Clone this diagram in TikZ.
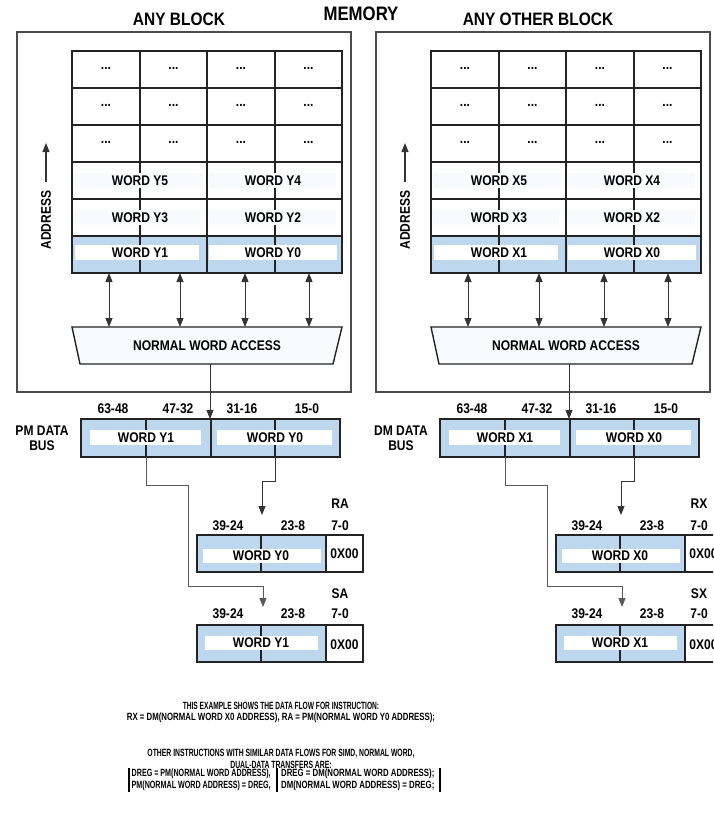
\documentclass[tikz,border=0pt]{standalone}
\usepackage{fontspec}
\setmainfont{Liberation Sans}[FakeStretch=0.86]
\newfontfamily\noteA{Liberation Sans}[FakeStretch=0.63]
\newfontfamily\noteB{Liberation Sans}[FakeStretch=0.745]
\newfontfamily\noteC{Liberation Sans}[FakeStretch=0.65]
\newfontfamily\noteD{Liberation Sans}[FakeStretch=0.68]
\usetikzlibrary{arrows.meta}
\definecolor{lblue}{RGB}{189,215,238}
\definecolor{faint}{RGB}{248,250,253}
\definecolor{gridc}{RGB}{35,35,35}
\tikzset{
  lbl/.style={font=\fontsize{14}{16}\selectfont\bfseries, inner sep=0pt},
  ttl/.style={font=\fontsize{18}{20}\selectfont\bfseries, inner sep=0pt},
  note/.style={inner sep=0pt, align=center},
  gridline/.style={line width=1.8pt, draw=gridc},
  framebox/.style={line width=1.1pt, draw=black!70},
  conn/.style={line width=0.9pt, draw=black!80},
  tip/.style={-{Triangle[length=9pt,width=7pt]}},
  dtip/.style={{Triangle[length=9pt,width=7pt]}-{Triangle[length=9pt,width=7pt]}},
}
\newcommand{\NoteSize}{\fontsize{10.5}{12}\selectfont\bfseries}
\newcommand{\MemHalf}[6]{%
  % outer frame and title
  \draw[framebox] (17,32) rectangle (351,392);
  \node[ttl] (#1title) at (179,19.5) {#3};
  % memory grid
  \fill[lblue] (72,236) rectangle (342,273);
  \foreach \yy in {88,125,162,199,236} \draw[gridline] (72,\yy) -- (342,\yy);
  \foreach \xx in {140,207,275} \draw[gridline] (\xx,51) -- (\xx,273);
  \draw[gridline] (72,51) rectangle (342,273);
  \fill[faint] (74,173) rectangle (203,188);
  \fill[faint] (209,173) rectangle (336,188);
  \fill[faint] (74,210) rectangle (200,225);
  \fill[faint] (209,210) rectangle (336,225);
  \fill[white] (75,245) rectangle (199,260);
  \fill[white] (209,245) rectangle (337,260);
  \foreach \r/\yy in {1/68,2/105,3/142}
    \foreach \c/\xx in {1/106,2/173.5,3/241,4/308.5}
      \node[lbl] (#1dots\r\c) at (\xx,\yy) {...};
  \node[lbl] (#1w5) at (140,180.5) {WORD #25};
  \node[lbl] (#1w4) at (273,180.5) {WORD #24};
  \node[lbl] (#1w3) at (140,217.5) {WORD #23};
  \node[lbl] (#1w2) at (273,217.5) {WORD #22};
  \node[lbl] (#1w1) at (140,253) {WORD #21};
  \node[lbl] (#1w0) at (273,253) {WORD #20};
  % address label
  \node[lbl, rotate=90] (#1addr) at (46,220) {ADDRESS};
  \coordinate (#1addrA) at (46,182);
  \coordinate (#1addrB) at (46,143);
  \draw[conn, line width=1.2pt, tip] (#1addrA) -- (#1addrB);
  % access trapezoid
  \draw[line width=1.4pt, draw=gridc, fill=faint] (72,327) -- (342,327) -- (333,364) -- (80,364) -- cycle;
  \node[lbl] (#1access) at (207,346) {NORMAL WORD ACCESS};
  \foreach \i/\xx in {1/109,2/180,3/245,4/309}{
    \coordinate (#1g\i) at (\xx,273);
    \coordinate (#1t\i) at (\xx,327);
    \draw[conn, dtip] (#1g\i) -- (#1t\i);
  }
  % data bus
  \coordinate (#1accOut) at (210,364);
  \coordinate (#1busIn) at (210,419);
  \fill[lblue] (81,419) rectangle (340,457);
  \draw[gridline, line width=1.4pt] (146,419) -- (146,457);
  \draw[gridline, line width=1.4pt] (275,419) -- (275,457);
  \draw[gridline, line width=1.4pt] (211,419) -- (211,457);
  \fill[white] (90,430) rectangle (201,445);
  \fill[white] (217,430) rectangle (332,445);
  \draw[gridline, line width=1.4pt] (81,419) rectangle (340,457);
  \node[lbl] (#1bw1) at (146,438) {WORD #21};
  \node[lbl] (#1bw0) at (275,438) {WORD #20};
  \node[lbl] (#1b63) at (113,409) {63-48};
  \node[lbl] (#1b47) at (178,409) {47-32};
  \node[lbl] (#1b31) at (242,409) {31-16};
  \node[lbl] (#1b15) at (307,409) {15-0};
  \node[lbl, align=center, font=\fontsize{14}{15}\selectfont\bfseries] (#1busname) at (42,438.5) {#4\\BUS};
  \draw[conn, tip] (#1accOut) -- (#1busIn);
  % register 1
  \fill[lblue] (197,535) rectangle (326,572);
  \draw[gridline, line width=1.4pt] (261,535) -- (261,572);
  \draw[gridline, line width=1.4pt] (326,535) -- (326,572);
  \fill[white] (203,549) rectangle (321,563);
  \draw[gridline, line width=1.4pt] (197,535) rectangle (363,572);
  \node[lbl] (#1r1w) at (261,556) {WORD #20};
  \node[lbl] (#1r1z) at (344.5,554) {0X00};
  \node[lbl] (#1r1n) at (340,504) {#5};
  \node[lbl] (#1r1a) at (228,526) {39-24};
  \node[lbl] (#1r1b) at (293,526) {23-8};
  \node[lbl] (#1r1c) at (340,526) {7-0};
  % register 2
  \fill[lblue] (197,625) rectangle (326,662);
  \draw[gridline, line width=1.4pt] (261,625) -- (261,662);
  \draw[gridline, line width=1.4pt] (326,625) -- (326,662);
  \fill[white] (205,636) rectangle (318,650);
  \draw[gridline, line width=1.4pt] (197,625) rectangle (363,662);
  \node[lbl] (#1r2w) at (261,643) {WORD #21};
  \node[lbl] (#1r2z) at (344.5,645) {0X00};
  \node[lbl] (#1r2n) at (340,594) {#6};
  \node[lbl] (#1r2a) at (228,614) {39-24};
  \node[lbl] (#1r2b) at (293,614) {23-8};
  \node[lbl] (#1r2c) at (340,614) {7-0};
  % bus to registers
  \coordinate (#1w0out) at (275,457);
  \coordinate (#1r1in) at (262,515);
  \draw[conn, tip] (#1w0out) -- (275,481) -- (262,481) -- (#1r1in);
  \coordinate (#1w1out) at (146,457);
  \coordinate (#1r2in) at (263,607);
  \draw[conn, draw=black!65, tip] (#1w1out) -- (146,485) -- (188,485) -- (188,586) -- (263,586) -- (#1r2in);
}
\begin{document}
\begin{tikzpicture}[x=1pt,y=-1pt]
  \clip (0,0) rectangle (713,814);
  \fill[white] (0,0) rectangle (713,814);
  \node[ttl, font=\fontsize{19.5}{21}\selectfont\bfseries] (memory) at (361,14) {MEMORY};
  \begin{scope}
    \MemHalf{L}{Y}{ANY BLOCK}{PM DATA}{RA}{SA}
  \end{scope}
  \begin{scope}[xshift=359pt]
    \MemHalf{R}{X}{ANY OTHER BLOCK}{DM DATA}{RX}{SX}
  \end{scope}
  % explanatory text
  \node[note, font=\noteA\NoteSize] (ex1) at (281,706) {THIS EXAMPLE SHOWS THE DATA FLOW FOR INSTRUCTION:};
  \node[note, font=\noteB\NoteSize] (ex1b) at (281,718) {RX = DM(NORMAL WORD X0 ADDRESS), RA = PM(NORMAL WORD Y0 ADDRESS);};
  \node[note, font=\noteC\NoteSize] (ex2) at (281,753.5) {OTHER INSTRUCTIONS WITH SIMILAR DATA FLOWS FOR SIMD, NORMAL WORD,};
  \node[note, font=\noteC\NoteSize] (ex2b) at (281,764.5) {DUAL-DATA TRANSFERS ARE:};
  \node[note, font=\noteD\NoteSize, align=left, anchor=west] (ex3) at (131.5,780) {DREG = PM(NORMAL WORD ADDRESS),\\PM(NORMAL WORD ADDRESS) = DREG,};
  \node[note, font=\noteB\NoteSize, align=left, anchor=west] (ex4) at (281,780) {DREG = DM(NORMAL WORD ADDRESS);\\DM(NORMAL WORD ADDRESS) = DREG;};
  \coordinate (bar1t) at (129,768); \coordinate (bar1b) at (129,792);
  \coordinate (bar2t) at (277,768); \coordinate (bar2b) at (277,792);
  \coordinate (bar3t) at (440,768); \coordinate (bar3b) at (440,792);
  \draw[line width=1.6pt] (bar1t) -- (bar1b);
  \draw[line width=1.6pt] (bar2t) -- (bar2b);
  \draw[line width=1.6pt] (bar3t) -- (bar3b);
\end{tikzpicture}
\end{document}
